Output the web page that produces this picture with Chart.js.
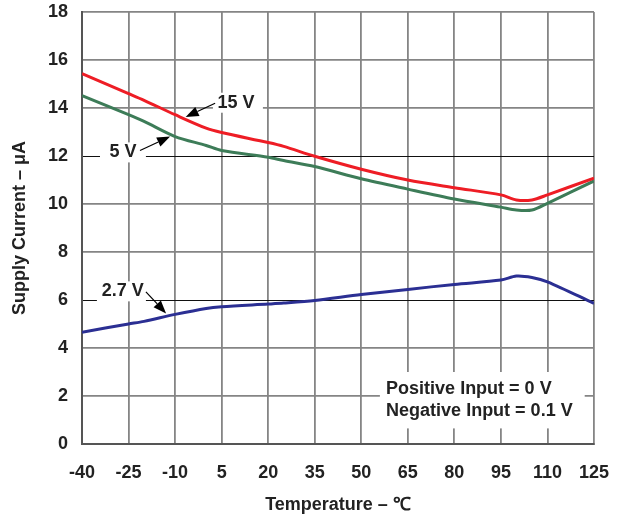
<!DOCTYPE html>
<html>
<head>
<meta charset="utf-8">
<script src="https://cdn.jsdelivr.net/npm/chart.js@4/dist/chart.umd.min.js"></script>
<style>
  html, body { margin: 0; padding: 0; background: #fff; }
  #wrap { width: 624px; height: 519px; }
</style>
</head>
<body>
<div id="wrap"><canvas id="chart" width="624" height="519"></canvas></div>
<script>
// Supply current vs temperature, three supply voltages
const temps = [-40, -25, -20, -10, 0, 5, 20, 25, 35, 50, 65, 80, 95, 100, 105, 110, 125];
const current15V = [15.43, 14.6, 14.32, 13.72, 13.16, 12.98, 12.56, 12.4, 11.99, 11.45, 11.0, 10.68, 10.38, 10.17, 10.17, 10.38, 11.08];
const current5V = [14.52, 13.72, 13.44, 12.81, 12.44, 12.23, 11.95, 11.81, 11.56, 11.05, 10.62, 10.21, 9.87, 9.75, 9.75, 10.03, 10.96];
const current27V = [4.66, 5.0, 5.11, 5.4, 5.65, 5.72, 5.83, 5.87, 5.98, 6.23, 6.44, 6.65, 6.83, 7.0, 6.94, 6.76, 5.86];
const xTicks = [-40, -25, -10, 5, 20, 35, 50, 65, 80, 95, 110, 125];
const yTicks = [0, 2, 4, 6, 8, 10, 12, 14, 16, 18];

const FONT = '"Liberation Sans", Arial, Helvetica, sans-serif';

// callout labels: text position, white box, arrow (data coords)
const callouts = [
    { text: '15 V', x: 9.6, y: 14.22, box: [2.2, 18.3], from: [2.9, 14.2], to: [-6.6, 13.62] },
    { text: '5 V', x: -26.8, y: 12.15, box: [-34.2, -19.4], from: [-21.3, 12.23], to: [-11.6, 12.81] },
    { text: '2.7 V', x: -26.9, y: 6.36, box: [-35.2, -19.4], from: [-19.4, 6.34], to: [-12.9, 5.44] }
];
const noteLines = ['Positive Input = 0 V', 'Negative Input = 0.1 V'];

function toPoints(values) {
    return temps.map((t, i) => ({ x: t, y: values[i] }));
}

function arrow(ctx, x1, y1, x2, y2) {
    const ang = Math.atan2(y2 - y1, x2 - x1);
    const head = 13, half = 5;
    const bx = x2 - head * Math.cos(ang), by = y2 - head * Math.sin(ang);
    ctx.beginPath();
    ctx.moveTo(x1, y1);
    ctx.lineTo(bx, by);
    ctx.lineWidth = 1.2;
    ctx.strokeStyle = '#000';
    ctx.stroke();
    ctx.beginPath();
    ctx.moveTo(x2, y2);
    ctx.lineTo(bx + half * Math.sin(ang), by - half * Math.cos(ang));
    ctx.lineTo(bx - half * Math.sin(ang), by + half * Math.cos(ang));
    ctx.closePath();
    ctx.fillStyle = '#000';
    ctx.fill();
}

const calloutPlugin = {
    id: 'callouts',
    beforeDatasetsDraw(chart) {
        const { ctx, scales: { x, y } } = chart;
        ctx.save();
        ctx.fillStyle = '#fff';
        callouts.forEach(c => {
            const py = y.getPixelForValue(c.y);
            const x1 = x.getPixelForValue(c.box[0]);
            const x2 = x.getPixelForValue(c.box[1]);
            ctx.fillRect(x1, py - 10, x2 - x1, 20);
        });
        // note box
        const bx1 = x.getPixelForValue(56), bx2 = x.getPixelForValue(122);
        const by1 = y.getPixelForValue(3.0), by2 = y.getPixelForValue(0.65);
        ctx.fillRect(bx1, by1, bx2 - bx1, by2 - by1);
        ctx.restore();
    },
    afterDatasetsDraw(chart) {
        const { ctx, scales: { x, y } } = chart;
        ctx.save();
        ctx.font = 'bold 18px ' + FONT;
        ctx.textAlign = 'center';
        ctx.textBaseline = 'middle';
        callouts.forEach(c => {
            ctx.fillStyle = '#222';
            ctx.fillText(c.text, x.getPixelForValue(c.x), y.getPixelForValue(c.y));
            arrow(ctx, x.getPixelForValue(c.from[0]), y.getPixelForValue(c.from[1]),
                  x.getPixelForValue(c.to[0]), y.getPixelForValue(c.to[1]));
        });
        ctx.textAlign = 'left';
        ctx.fillStyle = '#222';
        ctx.fillText(noteLines[0], x.getPixelForValue(58), y.getPixelForValue(2.3));
        ctx.fillText(noteLines[1], x.getPixelForValue(58), y.getPixelForValue(1.36));
        ctx.restore();
    }
};

const lineStyle = { borderWidth: 3, pointRadius: 0, tension: 0.3, fill: false };

new Chart(document.getElementById('chart'), {
    type: 'line',
    data: {
        datasets: [
            { label: '15 V', data: toPoints(current15V), borderColor: '#ee1d25', ...lineStyle },
            { label: '5 V', data: toPoints(current5V), borderColor: '#3d7c58', ...lineStyle },
            { label: '2.7 V', data: toPoints(current27V), borderColor: '#2b2f93', ...lineStyle }
        ]
    },
    options: {
        responsive: false,
        animation: false,
        layout: { padding: { left: 0, right: 30, top: 12, bottom: 0 } },
        plugins: {
            legend: { display: false },
            tooltip: { enabled: false }
        },
        scales: {
            x: {
                type: 'linear',
                min: -40,
                max: 125,
                afterBuildTicks: s => { s.ticks = xTicks.map(v => ({ value: v })); },
                afterFit: s => { s.height = 75; s.paddingLeft = 0; s.paddingRight = 0; },
                grid: { color: '#858585', lineWidth: 1.8, drawTicks: false },
                border: { color: '#555', width: 2 },
                ticks: {
                    padding: 18,
                    color: '#222',
                    maxRotation: 0,
                    font: { family: FONT, size: 18, weight: 'bold' }
                },
                title: {
                    display: true,
                    text: 'Temperature – ℃',
                    color: '#222',
                    padding: { top: 0, bottom: 3 },
                    font: { family: FONT, size: 18, weight: 'bold' }
                }
            },
            y: {
                min: 0,
                max: 18,
                afterBuildTicks: s => { s.ticks = yTicks.map(v => ({ value: v })); },
                afterFit: s => { s.width = 82; s.paddingTop = 0; s.paddingBottom = 0; },
                grid: {
                    drawTicks: false,
                    color: c => (c.tick && (c.tick.value === 6 || c.tick.value === 12)) ? '#111' : '#858585',
                    lineWidth: c => (c.tick && (c.tick.value === 6 || c.tick.value === 12)) ? 1 : 1.8
                },
                border: { color: '#555', width: 2 },
                ticks: {
                    padding: 14,
                    color: '#222',
                    font: { family: FONT, size: 18, weight: 'bold' }
                },
                title: {
                    display: true,
                    text: 'Supply Current – μA',
                    color: '#222',
                    padding: { top: 9, bottom: 0 },
                    font: { family: FONT, size: 18, weight: 'bold' }
                }
            }
        }
    },
    plugins: [calloutPlugin]
});
</script>
</body>
</html>
